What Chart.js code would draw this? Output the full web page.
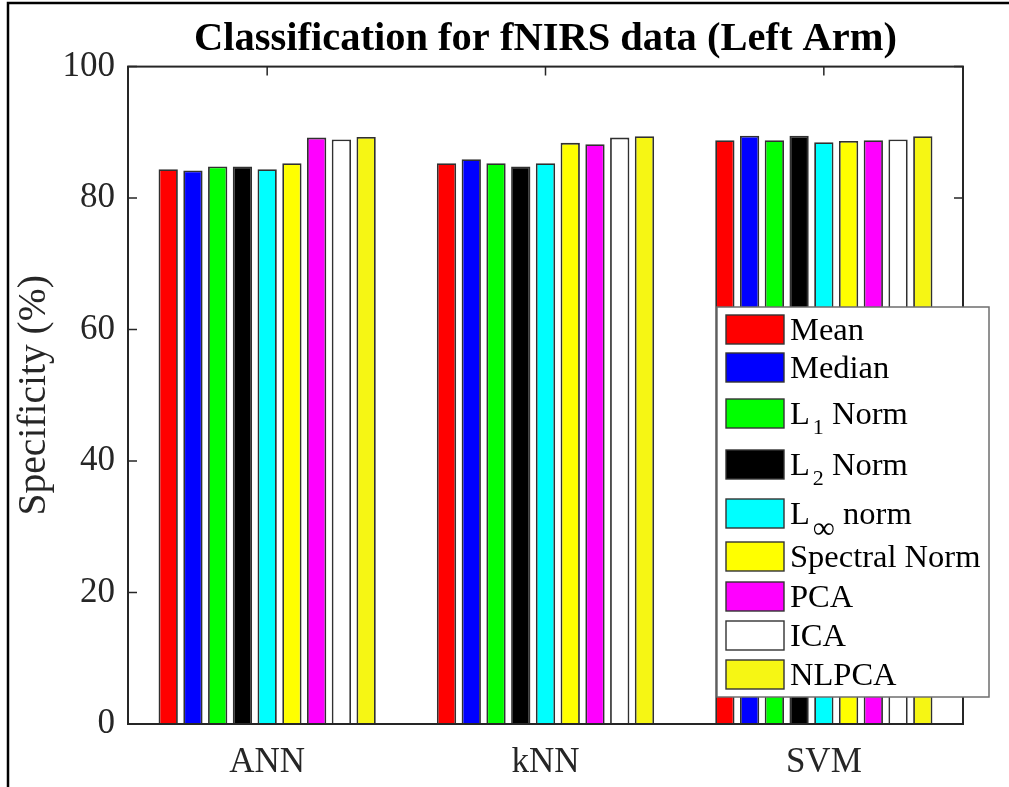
<!DOCTYPE html>
<html>
<head>
<meta charset="utf-8">
<script src="https://cdn.jsdelivr.net/npm/chart.js@4/dist/chart.umd.min.js"></script>
<style>
  html, body { margin: 0; padding: 0; background: #fff; }
  #wrap { position: relative; width: 1009px; height: 787px; }
</style>
</head>
<body>
<div id="wrap"><canvas id="c" width="1009" height="787"></canvas></div>
<script>
// Classifiers on the x axis
const classifiers = ['ANN', 'kNN', 'SVM'];

// Feature sets (an underscore marks a one-character subscript)
const featureNames = ['Mean', 'Median', 'L_1 Norm', 'L_2 Norm', 'L_\u221E norm', 'Spectral Norm', 'PCA', 'ICA', 'NLPCA'];
const featureColors = ['#ff0000', '#0000ff', '#00ff00', '#000000', '#00ffff', '#ffff00', '#ff00ff', '#ffffff', '#f6f614'];

// Specificity (%) per classifier: ANN, kNN, SVM
const meanVals     = [84.4, 85.3, 88.8];
const medianVals   = [84.2, 85.9, 89.5];
const l1Vals       = [84.8, 85.3, 88.8];
const l2Vals       = [84.8, 84.8, 89.5];
const lInfVals     = [84.4, 85.3, 88.5];
const spectralVals = [85.3, 88.4, 88.7];
const pcaVals      = [89.2, 88.2, 88.8];
const icaVals      = [88.9, 89.2, 88.9];
const nlpcaVals    = [89.3, 89.4, 89.4];

const yTicks = [0, 20, 40, 60, 80, 100];

const series = [meanVals, medianVals, l1Vals, l2Vals, lInfVals, spectralVals, pcaVals, icaVals, nlpcaVals];

const SERIF = "'Liberation Serif', 'Times New Roman', serif";
const AXIS_COLOR = '#262626';

// Page border, axes box with inward ticks, and the boxed legend
const framePlugin = {
  id: 'frame',
  beforeDraw(chart) {
    const c = chart.ctx;
    c.save();
    c.fillStyle = '#fff';
    c.fillRect(0, 0, chart.width, chart.height);
    c.strokeStyle = '#000';
    c.lineWidth = 2.5;
    c.beginPath();
    c.moveTo(8, chart.height);
    c.lineTo(8, 3);
    c.lineTo(chart.width, 3);
    c.stroke();
    c.restore();
  },
  afterDatasetsDraw(chart) {
    const c = chart.ctx;
    const a = chart.chartArea;
    const xs = chart.scales.x, ys = chart.scales.y;
    const tl = 9;
    c.save();
    c.strokeStyle = AXIS_COLOR;
    c.lineWidth = 2;
    c.strokeRect(a.left, a.top, a.right - a.left, a.bottom - a.top);
    c.lineWidth = 1.5;
    c.beginPath();
    yTicks.forEach(v => {
      const y = ys.getPixelForValue(v);
      c.moveTo(a.left, y); c.lineTo(a.left + tl, y);
      c.moveTo(a.right, y); c.lineTo(a.right - tl, y);
    });
    classifiers.forEach((_, i) => {
      const x = xs.getPixelForValue(i);
      c.moveTo(x, a.top); c.lineTo(x, a.top + tl);
    });
    c.stroke();
    c.restore();
  },
  afterDraw(chart) {
    const c = chart.ctx;
    const box = { left: 717, top: 307, right: 989, bottom: 697 };
    const rowTops = [315, 353, 399, 450, 499, 542, 582, 621, 660];
    const swX = 726, swW = 58, swH = 29, textX = 790;
    const fs = 32.5;
    c.save();
    c.fillStyle = '#fff';
    c.fillRect(box.left, box.top, box.right - box.left, box.bottom - box.top);
    c.strokeStyle = '#6e6e6e';
    c.lineWidth = 1.5;
    c.strokeRect(box.left, box.top, box.right - box.left, box.bottom - box.top);
    chart.data.datasets.forEach((ds, i) => {
      const top = rowTops[i];
      c.fillStyle = ds.backgroundColor;
      c.fillRect(swX, top, swW, swH);
      c.strokeStyle = '#333';
      c.lineWidth = 1.4;
      c.strokeRect(swX, top, swW, swH);
      const base = top + 25;
      c.fillStyle = '#000';
      c.textBaseline = 'alphabetic';
      c.textAlign = 'left';
      c.font = fs + 'px ' + SERIF;
      const label = ds.label;
      const u = label.indexOf('_');
      if (u < 0) {
        c.fillText(label, textX, base);
      } else {
        const head = label.slice(0, u);
        const sub = label.charAt(u + 1);
        const tail = label.slice(u + 2);
        c.fillText(head, textX, base);
        let x = textX + c.measureText(head).width + 3;
        const isInf = sub === '\u221E';
        c.font = (isInf ? 31 : 22) + 'px ' + SERIF;
        c.fillText(sub, x, base + (isInf ? 14 : 10));
        x += c.measureText(sub).width;
        c.font = fs + 'px ' + SERIF;
        c.fillText(tail, x, base);
      }
    });
    c.restore();
  }
};

new Chart(document.getElementById('c'), {
  type: 'bar',
  data: {
    labels: classifiers,
    datasets: featureNames.map((name, i) => ({
      label: name,
      data: series[i],
      backgroundColor: featureColors[i],
      borderColor: '#303030',
      borderWidth: 1.8
    }))
  },
  options: {
    responsive: false,
    animation: false,
    events: [],
    layout: { padding: { left: 7, right: 46, top: 0, bottom: 0 } },
    datasets: { bar: { categoryPercentage: 0.8, barPercentage: 0.78 } },
    plugins: {
      legend: { display: false },
      tooltip: { enabled: false },
      title: {
        display: true,
        fullSize: false,
        text: 'Classification for fNIRS data (Left Arm)',
        color: '#000',
        font: { family: SERIF, size: 40.5, weight: 'bold' },
        padding: { top: 15, bottom: 3 }
      }
    },
    scales: {
      x: {
        grid: { display: false, drawTicks: false, tickLength: 0 },
        border: { display: false },
        ticks: { color: AXIS_COLOR, font: { family: SERIF, size: 35 }, padding: 18 },
        afterFit(s) { s.height = 63; }
      },
      y: {
        min: 0,
        max: 100,
        afterBuildTicks(s) { s.ticks = yTicks.map(v => ({ value: v })); },
        grid: { display: false, drawTicks: false, tickLength: 0 },
        border: { display: false },
        ticks: { color: AXIS_COLOR, font: { family: SERIF, size: 35 }, padding: 13 },
        title: {
          display: true,
          text: 'Specificity (%)',
          color: AXIS_COLOR,
          font: { family: SERIF, size: 39.5 },
          padding: { top: 4, bottom: 0 }
        },
        afterFit(s) { s.width = 121; }
      }
    }
  },
  plugins: [framePlugin]
});
</script>
</body>
</html>
